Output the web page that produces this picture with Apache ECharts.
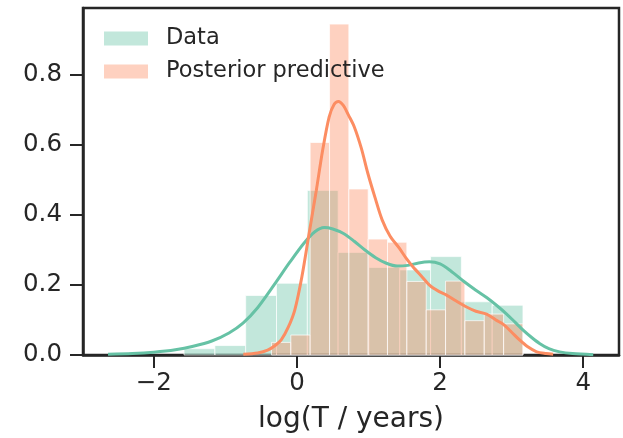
<!DOCTYPE html>
<html>
<head>
<meta charset="utf-8">
<script src="https://cdn.jsdelivr.net/npm/echarts@6/dist/echarts.min.js"></script>
<style>
  html, body { margin: 0; padding: 0; background: #fff; }
  #chart { width: 623px; height: 438px; }
</style>
</head>
<body>
<div id="chart"></div>
<script>
// histogram bins (density)
var dataEdges = [-1.578, -1.147, -0.717, -0.286, 0.145, 0.575, 1.006, 1.436, 1.867, 2.297, 2.728, 3.158];
var dataHeights = [0.018, 0.027, 0.17, 0.205, 0.47, 0.293, 0.25, 0.243, 0.281, 0.152, 0.142];

var predEdges = [-0.356, -0.086, 0.184, 0.455, 0.725, 0.995, 1.265, 1.535, 1.806, 2.076, 2.346, 2.617, 2.887, 3.157];
var predHeights = [0.036, 0.057, 0.607, 0.945, 0.474, 0.331, 0.322, 0.21, 0.129, 0.211, 0.098, 0.117, 0.089];

// kde curves
var dataKdeX = [-2.64, -2.3, -2.0, -1.7, -1.45, -1.19, -0.95, -0.75, -0.55, -0.32, -0.1, 0.1, 0.25, 0.38, 0.5, 0.65, 0.8, 0.95, 1.1, 1.25, 1.4, 1.55, 1.7, 1.85, 2.0, 2.15, 2.32, 2.5, 2.65, 2.8, 2.93, 3.05, 3.16, 3.28, 3.39, 3.52, 3.67, 3.85, 4.14];
var dataKdeY = [0.002, 0.004, 0.008, 0.015, 0.025, 0.04, 0.063, 0.092, 0.135, 0.2, 0.265, 0.32, 0.352, 0.364, 0.36, 0.347, 0.325, 0.3, 0.278, 0.262, 0.254, 0.256, 0.263, 0.266, 0.26, 0.24, 0.212, 0.185, 0.164, 0.14, 0.117, 0.093, 0.071, 0.05, 0.033, 0.018, 0.009, 0.004, 0.001];

var predKdeX = [-0.75, -0.55, -0.41, -0.3, -0.22, -0.12, -0.03, 0.07, 0.17, 0.27, 0.36, 0.45, 0.52, 0.58, 0.65, 0.72, 0.8, 0.9, 0.99, 1.09, 1.19, 1.3, 1.43, 1.53, 1.62, 1.74, 1.86, 1.97, 2.09, 2.22, 2.37, 2.5, 2.65, 2.78, 2.88, 3.0, 3.11, 3.22, 3.35, 3.48, 3.58];
var predKdeY = [0.002, 0.006, 0.014, 0.028, 0.043, 0.08, 0.129, 0.225, 0.348, 0.47, 0.586, 0.68, 0.716, 0.724, 0.712, 0.685, 0.652, 0.59, 0.519, 0.45, 0.386, 0.34, 0.305, 0.275, 0.252, 0.225, 0.198, 0.183, 0.171, 0.155, 0.137, 0.125, 0.117, 0.1, 0.088, 0.065, 0.043, 0.024, 0.009, 0.004, 0.002];

var xTicks = [-2, 0, 2, 4];
var yTicks = [0, 0.2, 0.4, 0.6, 0.8];

var dark = "#262626";
var teal = "#66c2a5";
var orange = "#fc8d62";
var tealFill = "rgba(102,194,165,0.4)";
var orangeFill = "rgba(252,141,98,0.4)";

function binData(edges, heights) {
  var out = [];
  for (var i = 0; i < heights.length; i++) {
    out.push([edges[i], edges[i + 1], heights[i]]);
  }
  return out;
}
function zipXY(xs, ys) {
  return xs.map(function(x, i) { return [x, ys[i]]; });
}
function histRender(fill) {
  return function(params, api) {
    var p0 = api.coord([api.value(0), 0]);
    var p1 = api.coord([api.value(1), api.value(2)]);
    return {
      type: "rect",
      shape: { x: p0[0], y: p1[1], width: p1[0] - p0[0], height: p0[1] - p1[1] },
      style: { fill: fill, stroke: "rgba(255,255,255,0.7)", lineWidth: 1 }
    };
  };
}

var myChart = echarts.init(document.getElementById("chart"));
var option = {
  animation: false,
  grid: {
    left: 83, right: 4, top: 8, bottom: 83,
    outerBoundsMode: "none", containLabel: false,
    show: true, borderColor: dark, borderWidth: 2.5, backgroundColor: "transparent"
  },
  legend: {
    left: 104, top: 27, orient: "vertical", padding: 0,
    itemWidth: 44, itemHeight: 14, itemGap: 10,
    textStyle: { fontFamily: "DejaVu Sans", fontSize: 22.5, color: dark, padding: [0, 0, 0, 13] },
    data: [
      { name: "Data", icon: "rect", itemStyle: { color: tealFill } },
      { name: "Posterior predictive", icon: "rect", itemStyle: { color: orangeFill } }
    ]
  },
  xAxis: {
    type: "value", min: -2.99, max: 4.5,
    name: "log(T / years)", nameLocation: "middle", nameGap: 51,
    nameTextStyle: { fontFamily: "DejaVu Sans", fontSize: 28, color: dark },
    axisLine: { show: true, onZero: false, lineStyle: { color: dark, width: 2.5 } },
    axisTick: { show: true, length: 13, lineStyle: { color: dark, width: 2 }, customValues: xTicks },
    axisLabel: {
      fontFamily: "DejaVu Sans", fontSize: 24.5, color: dark, margin: 16, customValues: xTicks,
      formatter: function(v) { return String(v).replace("-", "\u2212"); }
    },
    splitLine: { show: false }
  },
  yAxis: {
    type: "value", min: 0, max: 0.991,
    axisLine: { show: true, onZero: false, lineStyle: { color: dark, width: 2.5 } },
    axisTick: { show: true, length: 13, lineStyle: { color: dark, width: 2 }, customValues: yTicks },
    axisLabel: {
      fontFamily: "DejaVu Sans", fontSize: 24.5, color: dark, margin: 21, customValues: yTicks,
      formatter: function(v) { return v.toFixed(1); }
    },
    splitLine: { show: false }
  },
  series: [
    {
      name: "Data", type: "custom", renderItem: histRender(tealFill),
      itemStyle: { color: tealFill },
      encode: { x: [0, 1], y: 2 },
      data: binData(dataEdges, dataHeights)
    },
    {
      name: "Data KDE", type: "line", showSymbol: false, smooth: 0.3,
      lineStyle: { color: teal, width: 3 },
      data: zipXY(dataKdeX, dataKdeY)
    },
    {
      name: "Posterior predictive", type: "custom", renderItem: histRender(orangeFill),
      itemStyle: { color: orangeFill },
      encode: { x: [0, 1], y: 2 },
      data: binData(predEdges, predHeights)
    },
    {
      name: "Posterior KDE", type: "line", showSymbol: false, smooth: 0.3,
      lineStyle: { color: orange, width: 3 },
      data: zipXY(predKdeX, predKdeY)
    }
  ]
};
myChart.setOption(option);
window.onresize = function() {
  myChart.resize();
};
</script>
</body>
</html>
